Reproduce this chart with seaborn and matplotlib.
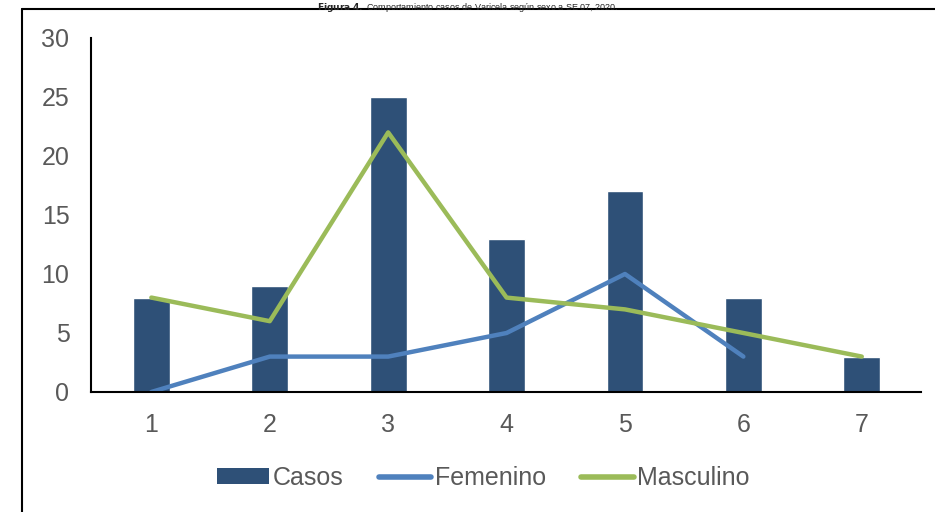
import numpy as np
import pandas as pd
import matplotlib
matplotlib.use("Agg")
import matplotlib.pyplot as plt
from matplotlib.lines import Line2D
from matplotlib.patches import Patch
import seaborn as sns

# data
semanas = ["1", "2", "3", "4", "5", "6", "7"]
casos = [8, 9, 25, 13, 17, 8, 3]
femenino = [0, 3, 3, 5, 10, 3, np.nan]
masculino = [8, 6, 22, 8, 7, 5, 3]

c_casos = "#2E5077"
c_fem = "#4F81BD"
c_masc = "#9BBB59"
gris = "#595959"

df = pd.DataFrame({"semana": semanas, "Casos": casos,
                   "Femenino": femenino, "Masculino": masculino})

sns.set_style("white")
plt.rcParams["font.family"] = ["Liberation Sans", "DejaVu Sans"]

fig = plt.figure(figsize=(9.35, 5.12), dpi=100)
ax = fig.add_axes([0.0973, 0.2344, 0.8877, 0.6914])

sns.barplot(data=df, x="semana", y="Casos", color=c_casos, width=0.31,
            saturation=1, ax=ax, order=semanas)
sns.lineplot(data=df, x="semana", y="Femenino", color=c_fem, linewidth=3.2,
             ax=ax, solid_capstyle="round")
sns.lineplot(data=df, x="semana", y="Masculino", color=c_masc, linewidth=3.2,
             ax=ax, solid_capstyle="round")

ax.set_xlim(-0.51, 6.5)
ax.set_ylim(0, 30)
ax.set_yticks(range(0, 31, 5))
ax.set_xlabel("")
ax.set_ylabel("")
sns.despine(ax=ax)
for s in ["left", "bottom"]:
    ax.spines[s].set_color("black")
    ax.spines[s].set_linewidth(1.5)
ax.tick_params(axis="both", length=0, labelsize=18, labelcolor=gris)
ax.tick_params(axis="y", pad=15.5)
ax.tick_params(axis="x", pad=15)

handles = [Patch(facecolor=c_casos, edgecolor="none"),
           Line2D([0], [0], color=c_fem, lw=4, solid_capstyle="round"),
           Line2D([0], [0], color=c_masc, lw=4, solid_capstyle="round")]
fig.legend(handles, ["Casos", "Femenino", "Masculino"], loc="center",
           bbox_to_anchor=(0.517, 0.066), ncol=3, frameon=False,
           fontsize=18, labelcolor=gris, handlelength=2.1,
           handletextpad=0.15, columnspacing=1.4, handleheight=0.6)

# frame lines of the original figure box
fig.add_artist(Line2D([0.0235, 0.0235], [0, 0.9824], color="black", lw=1.5))
fig.add_artist(Line2D([0.0235, 1.0], [0.9824, 0.9824], color="black", lw=1.5))

fig.text(0.5, 0.999, r"$\bf{Figura\ 4.}$ Comportamiento casos de Varicela según sexo a SE 07, 2020.",
         ha="center", va="top", fontsize=6.5)

fig.savefig("out.png", dpi=100)
